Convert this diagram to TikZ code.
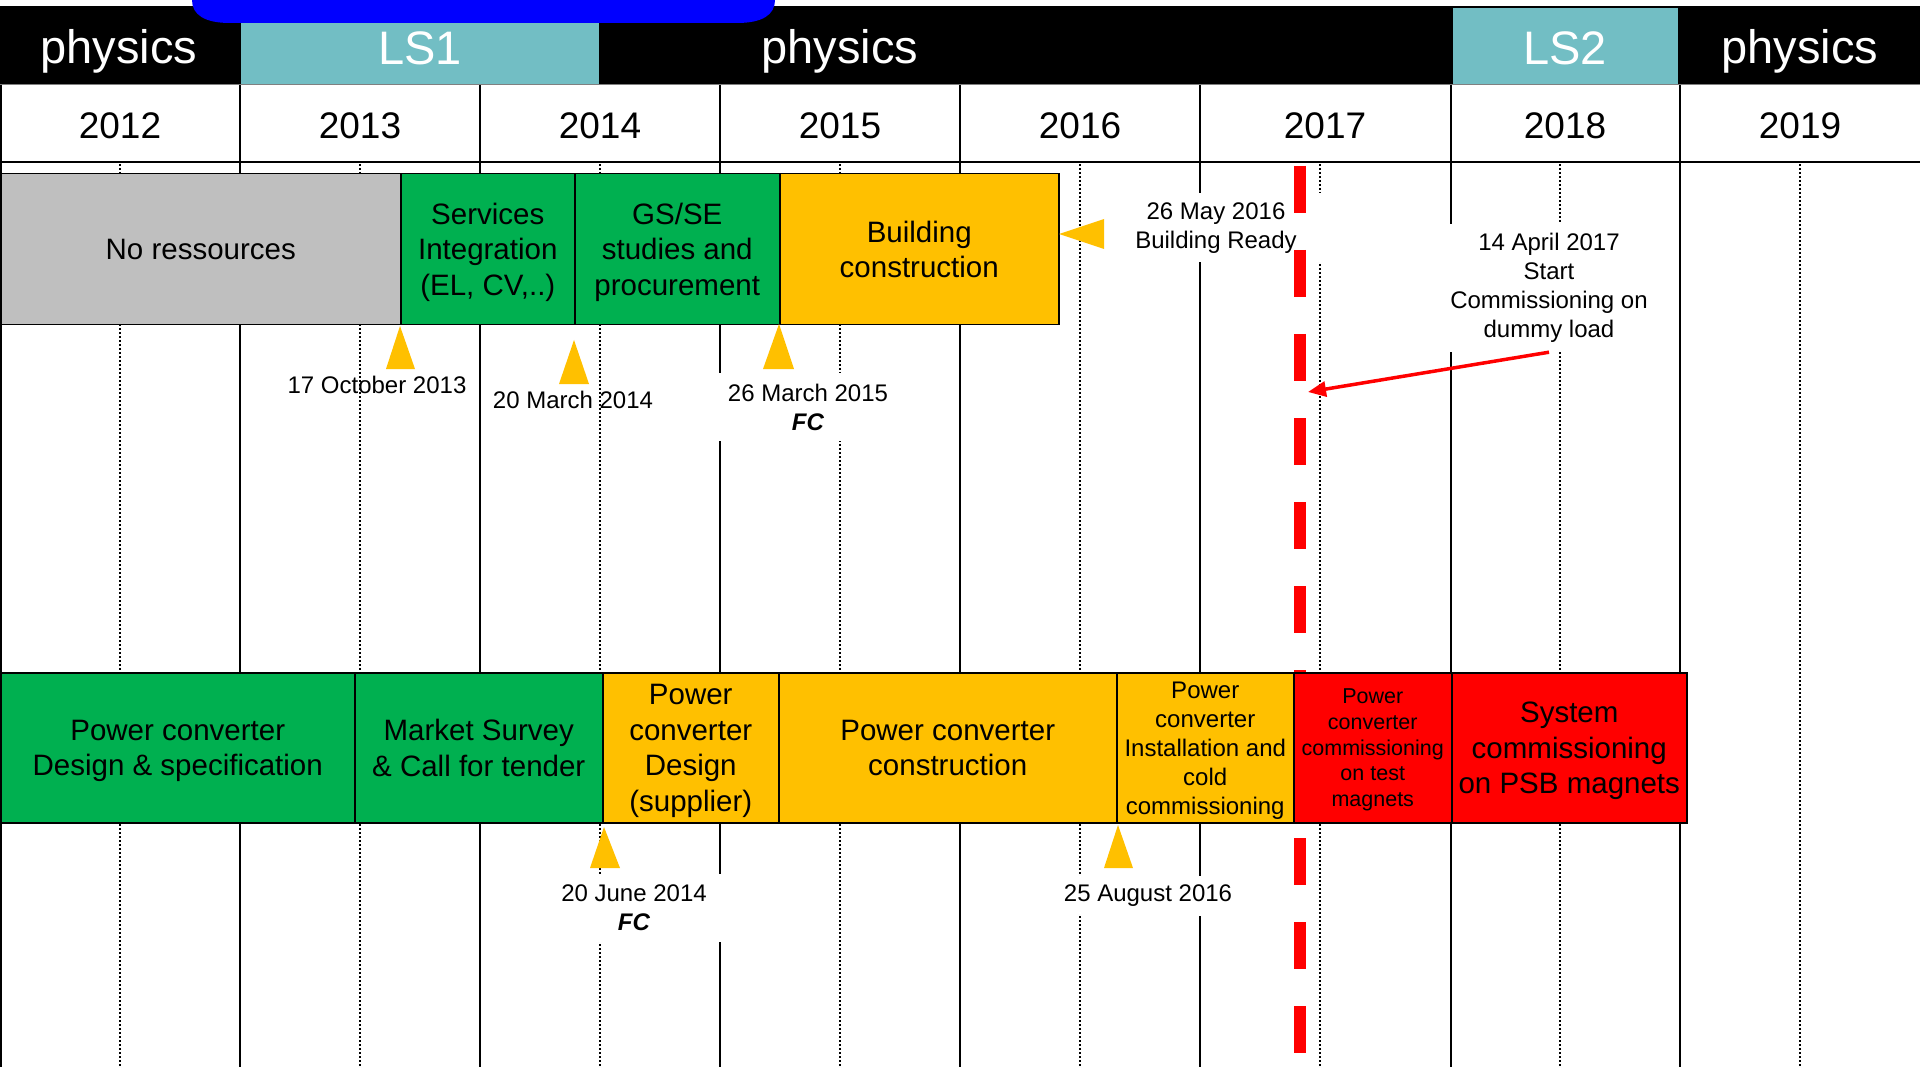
\documentclass[tikz,border=0pt]{standalone}
\usepackage{fontspec}
\setmainfont{Liberation Sans}
\usetikzlibrary{arrows.meta}
\definecolor{bargray}{HTML}{BFBFBF}
\definecolor{bargreen}{HTML}{00B050}
\definecolor{barorange}{HTML}{FFC000}
\definecolor{barred}{HTML}{FF0000}
\definecolor{lsteal}{HTML}{72BEC4}
\definecolor{topblue}{HTML}{0000FF}
\begin{document}
\begin{tikzpicture}[x=1pt,y=-1pt,
  gridsolid/.style={line width=2pt, black},
  griddot/.style={line width=2pt, black, dash pattern=on 2pt off 2pt},
  hdr/.style={text=white, font=\fontsize{47}{56}\selectfont, inner sep=0pt},
  yr/.style={text=black, font=\fontsize{37}{44}\selectfont, inner sep=0pt},
  bar/.style={draw=black, line width=1.5pt, anchor=north west, inner sep=0pt, align=center, text depth=0pt, font=\fontsize{29.5}{35.5}\selectfont},
  lbl/.style={align=center, inner sep=0pt, font=\fontsize{24}{29}\selectfont},
  lblbox/.style={lbl, fill=white},
  mile/.style={fill=barorange},
  reddash/.style={barred, line width=12pt, dash pattern=on 47pt off 37pt},
  redarrow/.style={barred, line width=3.5pt, -{Triangle[length=18pt,width=15pt]}},
]
\useasboundingbox (0,0) rectangle (1920,1067);
\fill[white] (0,0) rectangle (1920,1067);

% header band
\fill[black] (0,6) rectangle (1920,85);
\fill[lsteal] (241,6) rectangle (599,84);
\fill[lsteal] (1453,8) rectangle (1678,84);
\fill[topblue] (192,0) .. controls (192,15) and (205,23) .. (230,23) -- (737,23) .. controls (762,23) and (775,15) .. (775,0) -- cycle;
\node[hdr] (hp1) at (119,51) {physics};
\node[hdr] (hls1) at (420,48) {LS1};
\node[hdr] (hp2) at (840,51) {physics};
\node[hdr] (hls2) at (1565,48) {LS2};
\node[hdr] (hp3) at (1800,51) {physics};

% year row and grid
\draw[gray, line width=1pt] (0,85) -- (1920,85);
\draw[gridsolid] (0,162) -- (1920,162);
\foreach \x in {1,240,480,720,960,1200,1451,1680} \draw[gridsolid] (\x,85) -- (\x,1067);
\foreach \x in {120,360,600,840,1080,1320,1560,1800} \draw[griddot] (\x,164) -- (\x,1067);
\foreach \yy/\cx in {2012/120,2013/360,2014/600,2015/840,2016/1080,2017/1325,2018/1565,2019/1800}
  \node[yr] (y\yy) at (\cx,126) {\yy};

% milestone labels with white background
\node[lblbox, minimum width=190pt, minimum height=68pt] (m2015) at (808,407) {26 March 2015\\\textbf{\textit{FC}}};
\node[lblbox, minimum width=212pt, minimum height=69pt] (m2016may) at (1216,228) {26 May 2016\\Building Ready};
\node[lblbox, minimum width=210pt, minimum height=128pt] (m2017) at (1549,288) {14 April 2017\\Start\\Commissioning on\\dummy load};
\node[lblbox, minimum width=180pt, minimum height=68pt] (m2014jun) at (634,908) {20 June 2014\\\textbf{\textit{FC}}};
\node[lblbox, minimum width=190pt, minimum height=40pt] (m2016aug) at (1148,896) {25 August 2016};

% red dashed line
\draw[reddash] (1300,166) -- (1300,1067);

% row 1 bars
\node[bar, fill=bargray, minimum width=400pt, minimum height=151pt] (b1) at (0,173) {No ressources};
\node[bar, fill=bargreen, minimum width=174pt, minimum height=151pt] (b2) at (400,173) {Services\\Integration\\(EL, CV,..)};
\node[bar, fill=bargreen, minimum width=205pt, minimum height=151pt] (b3) at (574,173) {GS/SE\\studies and\\procurement};
\node[bar, fill=barorange, minimum width=279pt, minimum height=151pt] (b4) at (779,173) {Building\\construction};

% row 2 bars
\node[bar, fill=bargreen, minimum width=354pt, minimum height=150pt] (c1) at (0,672) {Power converter\\Design \& specification};
\node[bar, fill=bargreen, minimum width=248pt, minimum height=150pt] (c2) at (354,672) {Market Survey\\\& Call for tender};
\node[bar, fill=barorange, minimum width=176pt, minimum height=150pt] (c3) at (602,672) {Power\\converter\\Design\\(supplier)};
\node[bar, fill=barorange, minimum width=338pt, minimum height=150pt] (c4) at (778,672) {Power converter\\construction};
\node[bar, fill=barorange, minimum width=177pt, minimum height=150pt, font=\fontsize{24}{29}\selectfont] (c5) at (1116,672) {Power\\converter\\Installation and\\cold\\commissioning};
\node[bar, fill=barred, minimum width=158pt, minimum height=150pt, font=\fontsize{21.5}{25.7}\selectfont] (c6) at (1293,672) {Power\\converter\\commissioning\\on test\\magnets};
\node[bar, fill=barred, minimum width=235pt, minimum height=150pt] (c7) at (1451,672) {System\\commissioning\\on PSB magnets};

% milestone triangles
\fill[mile] (400,326) -- (415,369) -- (386,369) -- cycle;
\fill[mile] (574,340) -- (589,384) -- (559,384) -- cycle;
\fill[mile] (779,324) -- (794,369) -- (763,369) -- cycle;
\fill[mile] (1059,234) -- (1104,219) -- (1104,249) -- cycle;
\fill[mile] (604,827) -- (620,868) -- (590,868) -- cycle;
\fill[mile] (1118,825) -- (1133,868) -- (1104,868) -- cycle;

% labels without background
\node[lbl] (m2013) at (377,385) {17 October 2013};
\node[lbl] (m2014mar) at (573,400) {20 March 2014};

% arrow
\coordinate (tip) at (1308,392);
\draw[redarrow] (m2017.south) -- (tip);
\end{tikzpicture}
\end{document}
